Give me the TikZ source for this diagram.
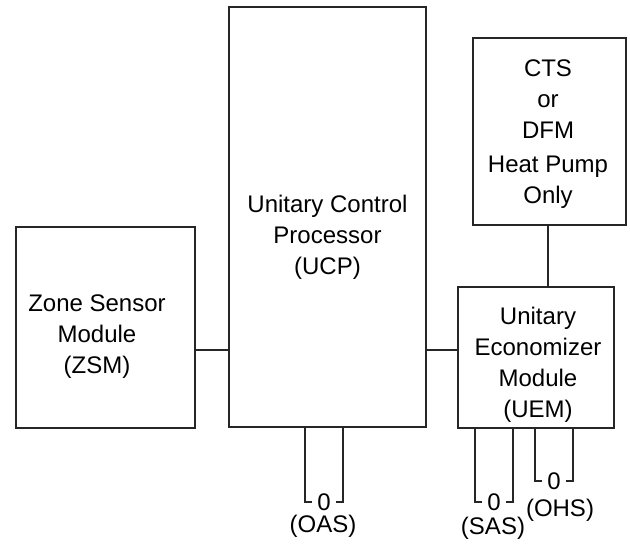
\documentclass[tikz,border=0pt]{standalone}
\usepackage{fontspec}
\setmainfont{Liberation Sans}
\begin{document}
\begin{tikzpicture}[x=1pt,y=-1pt,
  line width=1.1pt,
  box/.style={draw=black!85, line width=1.1pt, inner sep=0pt, rectangle},
  txt/.style={align=center, inner sep=0pt, font=\fontsize{24}{31}\selectfont},
  wire/.style={draw=black!85, line width=1.1pt}]
\useasboundingbox (0,0) rectangle (630,550);
% boxes (centre, width, height)
\node[box, minimum width=197pt, minimum height=420pt] (ucp) at (327.5,217) {};
\node[box, minimum width=179pt, minimum height=201pt] (zsm) at (105.5,327.5) {};
\node[box, minimum width=153pt, minimum height=187pt] (cts) at (549.5,131.5) {};
\node[box, minimum width=156pt, minimum height=141pt] (uem) at (536,357.5) {};
% texts
\node[txt] (ucpt) at (327.5,237) {Unitary Control\\Processor\\(UCP)};
\node[txt] (zsmt) at (97,337) {Zone Sensor\\Module\\(ZSM)};
\node[txt] (ctst) at (548,99) {CTS\\or\\DFM};
\node[txt] (hpt) at (548,182) {Heat Pump\\Only};
\node[txt] (uemt) at (538,365) {Unitary\\Economizer\\Module\\(UEM)};
% connectors
\draw[wire] (zsm.east |- 0,350) -- (ucp.west |- 0,350);
\draw[wire] (ucp.east |- 0,350) -- (uem.west |- 0,350);
\draw[wire] (cts.south -| 548,0) -- (uem.north -| 548,0);
% sensors
\coordinate (oasL) at (305,502);
\coordinate (oasR) at (343,502);
\coordinate (sasL) at (475,502);
\coordinate (sasR) at (513,502);
\coordinate (ohsL) at (535,481);
\coordinate (ohsR) at (573,481);
\node[txt] (oas0) at (324,502) {0};
\node[txt] (sas0) at (494,502) {0};
\node[txt] (ohs0) at (554,481) {0};
\node[txt] (oas) at (323,526) {(OAS)};
\node[txt] (sas) at (493,528) {(SAS)};
\node[txt] (ohs) at (560,510) {(OHS)};
\draw[wire] (oasL |- ucp.south) -- (oasL) -- ++(7,0);
\draw[wire] (oasR |- ucp.south) -- (oasR) -- ++(-7,0);
\draw[wire] (sasL |- uem.south) -- (sasL) -- ++(7,0);
\draw[wire] (sasR |- uem.south) -- (sasR) -- ++(-7,0);
\draw[wire] (ohsL |- uem.south) -- (ohsL) -- ++(7,0);
\draw[wire] (ohsR |- uem.south) -- (ohsR) -- ++(-7,0);
\end{tikzpicture}
\end{document}
